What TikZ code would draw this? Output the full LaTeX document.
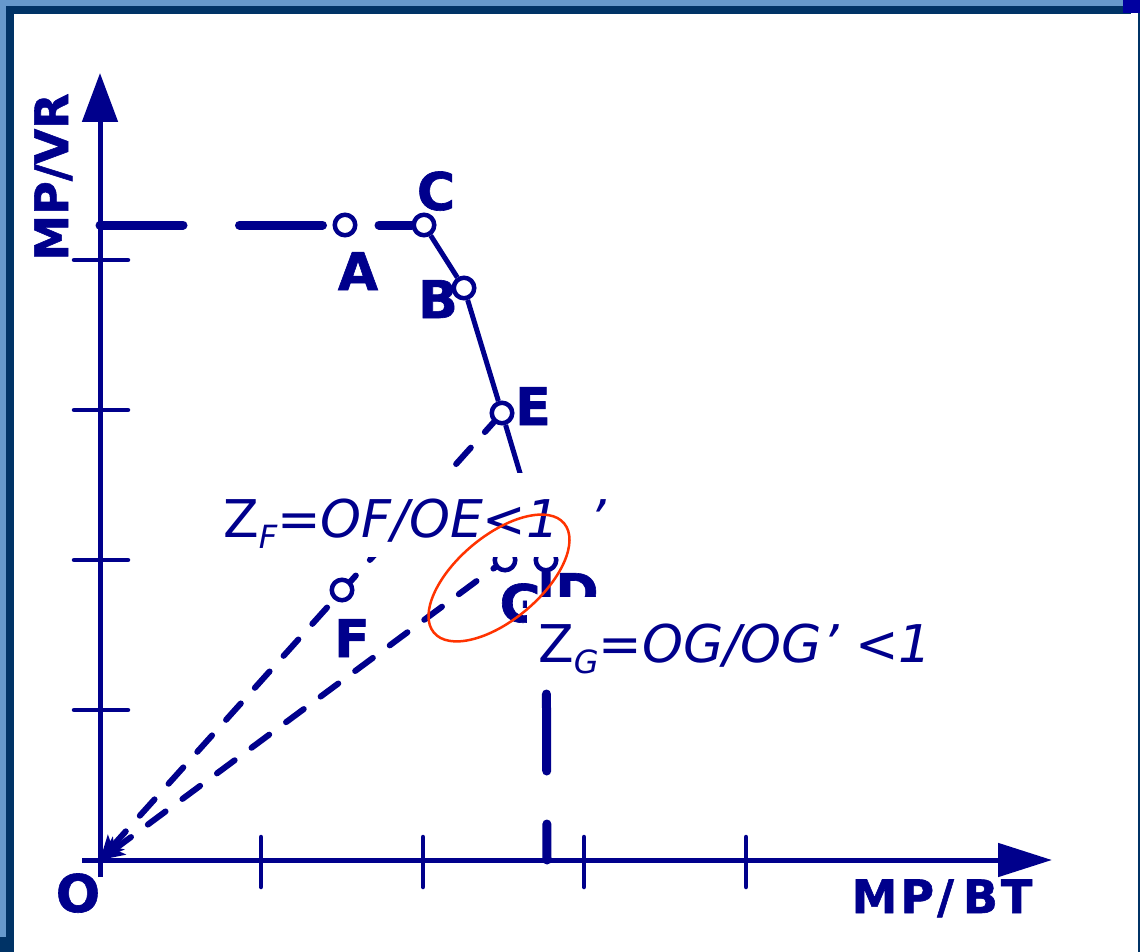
\documentclass[tikz,border=0pt]{standalone}
\usepackage{fontspec}
\setmainfont{DejaVu Sans}
\newfontfamily\heavyfont{DejaVu Sans}[BoldFeatures={FakeBold=1.2}]
\usepackage{tikz}
\usetikzlibrary{arrows.meta}
\usetikzlibrary{backgrounds}

\definecolor{navy}{RGB}{0,0,140}
\definecolor{frameblue}{RGB}{102,153,204}
\definecolor{framedark}{RGB}{0,51,102}
\definecolor{cornerblue}{RGB}{0,0,160}
\definecolor{ringred}{RGB}{255,51,0}

\newcommand{\zsub}[1]{\raisebox{-11pt}{\fontsize{32}{32}\selectfont\itshape #1}}

\begin{document}
\begin{tikzpicture}[
  x=1pt, y=-1pt,
  knot/.style={circle,draw=navy,fill=white,line width=4.5pt,minimum size=20.5pt,inner sep=0pt},
  lbl/.style={text=navy,font=\heavyfont\fontsize{52}{60}\selectfont\bfseries,inner sep=0pt,anchor=base},
  axlbl/.style={text=navy,font=\heavyfont\fontsize{46}{52}\selectfont\bfseries,inner sep=0pt,anchor=base},
  axisline/.style={navy,line width=5pt},
  tickmark/.style={navy,line width=4.5pt,line cap=round},
  thickdash/.style={navy,line width=9pt,line cap=round},
  ray/.style={navy,line width=6pt,line cap=round,dash pattern=on 22pt off 21pt},
  zbox/.style={fill=white,text=navy,font=\fontsize{52}{60}\selectfont\itshape,
               inner ysep=0pt,inner xsep=8pt,anchor=base west}
]
  \useasboundingbox (0,0) rectangle (1140,952);
  \begin{scope}[on background layer]
    \fill[white] (0,0) rectangle (1140,952);
  \end{scope}

  % frame
  \fill[frameblue] (0,0) rectangle (1123,6);
  \fill[frameblue] (0,0) rectangle (6,937);
  \fill[framedark] (6,6) rectangle (1131,14);
  \fill[framedark] (6,6) rectangle (14,952);
  \fill[framedark] (0,937) rectangle (14,952);
  \fill[cornerblue] (1123,0) rectangle (1140,13);
  \draw[framedark,line width=1.3pt] (1139,13) -- (1139,952);

  % axes
  \coordinate (orig) at (100,860);
  \coordinate (ytop) at (100,73);
  \coordinate (ybot) at (100,877);
  \coordinate (xbeg) at (82,860);
  \coordinate (xend) at (1052,860);
  \draw[axisline,-{Triangle[length=49pt,width=35pt]}] (ybot) -- (ytop);
  \draw[axisline,-{Triangle[length=54pt,width=33pt]}] (xbeg) -- (xend);

  \draw[tickmark] (74,260) -- (128,260);
  \draw[tickmark] (74,410) -- (128,410);
  \draw[tickmark] (74,560) -- (128,560);
  \draw[tickmark] (74,710) -- (128,710);
  \draw[tickmark] (261,837) -- (261,887);
  \draw[tickmark] (423,837) -- (423,887);
  \draw[tickmark] (584,837) -- (584,887);
  \draw[tickmark] (746,837) -- (746,887);

  % points
  \node[knot] (A) at (345,225) {};
  \node[knot] (C) at (424,225) {};
  \node[knot] (B) at (464,288) {};
  \node[knot] (E) at (502,413) {};
  \node[knot] (F) at (342,590) {};
  \node[knot] (G) at (505,560) {};
  \node[knot] (D) at (546,560) {};
  \coordinate (vrtop) at (100,225);
  \coordinate (dfoot) at (547,860);

  \begin{scope}[on background layer]
    \draw[thickdash,dash pattern=on 83pt off 56.5pt] (vrtop) -- (C);
    \draw[thickdash,dash pattern=on 77pt off 53pt,dash phase=8.5pt] (D) -- (dfoot);
    \draw[navy,line width=5pt] (C) -- (B) -- (E) -- (D);
    \draw[ray,{Stealth[length=24pt,width=22pt,inset=6pt]}-] (orig) -- (E);
    \draw[ray,{Stealth[length=24pt,width=22pt,inset=6pt]}-] (orig) -- (G);
  \end{scope}

  % labels
  \node[lbl] (labA) at (358,290) {A};
  \node[lbl] (labC) at (436,210) {C};
  \node[lbl] (labB) at (438,318) {B};
  \node[lbl] (labE) at (533,425) {E};
  \node[lbl] (labF) at (352,657) {F};
  \node[lbl] (labO) at (78,912) {O};
  \node[lbl] (labG) at (521,622) {G};
  \node[lbl] (labD) at (577,611) {D};

  \node[axlbl,rotate=90] (labVR) at (68,177) {MP/VR};
  \node[axlbl] (labBT) at (942,913) {M\kern3pt P\kern3pt/\kern9pt B\kern3pt T};

  % ratios
  \node[zbox,text height=64pt,text depth=20pt] (zf) at (215,537)
    {{\upshape Z}\zsub{F}=OF/OE<1\hspace{30pt}’};
  \node[zbox,inner xsep=11pt,text height=65pt,text depth=23pt] (zg) at (527,662)
    {{\upshape Z}\zsub{G}=OG/OG’ <1};

  \draw[ringred,line width=2.5pt,rotate around={40:(499,578)}]
    (499,578) ellipse [x radius=85pt, y radius=42pt];
\end{tikzpicture}
\end{document}
